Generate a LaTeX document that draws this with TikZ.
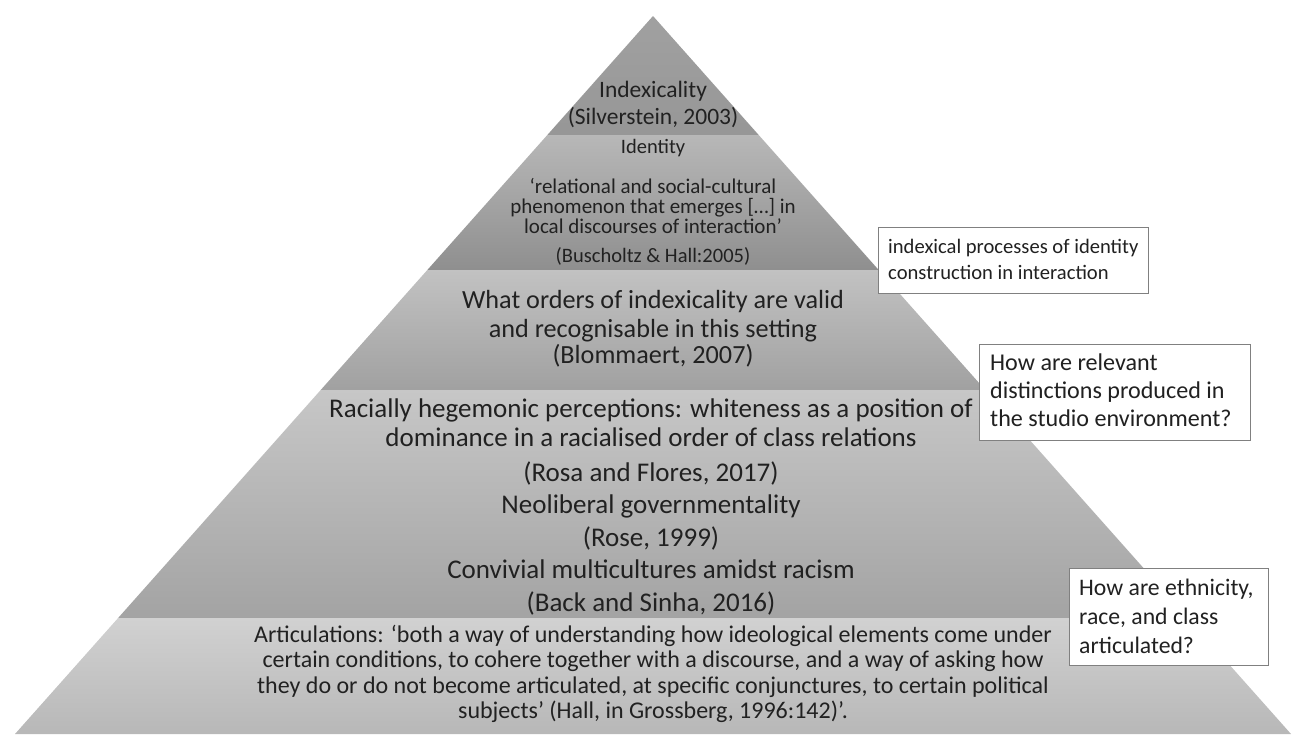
\documentclass[tikz,border=0pt]{standalone}
\usepackage{fontspec}
\setmainfont{Carlito}
\begin{document}
\begin{tikzpicture}[x=1pt,y=-1pt,
  band/.style={draw=none},
  ln/.style={anchor=base, inner sep=0pt, text=black!87},
  bl/.style={anchor=base west, inner sep=0pt, text=black!87},
  qbox/.style={draw=black!50, line width=0.9pt, fill=white, inner sep=0pt},
  fs/.style={font=\fontsize{#1}{#1}\selectfont}
]
\useasboundingbox (0,0) rectangle (1295,734);
% bands
\shade[band, top color=black!37, bottom color=black!41] (653,16) -- (758.7,135) -- (547.3,135) -- cycle;
\shade[band, top color=black!28, bottom color=black!44] (547.3,135) -- (758.7,135) -- (878.7,270) -- (427.3,270) -- cycle;
\shade[band, top color=black!24, bottom color=black!37] (427.3,270) -- (878.7,270) -- (985.3,390) -- (320.7,390) -- cycle;
\shade[band, top color=black!22, bottom color=black!36] (320.7,390) -- (985.3,390) -- (1187.9,618) -- (118.1,618) -- cycle;
\shade[band, top color=black!18, bottom color=black!28] (118.1,618) -- (1187.9,618) -- (1291,734) -- (15,734) -- cycle;
% band 1
\node[ln, fs=23.5] (t1a) at (653,97) {Indexicality};
\node[ln, fs=23.5] (t1b) at (653,124) {(Silverstein, 2003)};
% band 2
\node[ln, fs=20.5] (t2a) at (653,153) {Identity};
\node[ln, fs=21] (t2b) at (653,193) {‘relational and social-cultural};
\node[ln, fs=21] (t2c) at (653,213) {phenomenon that emerges […] in};
\node[ln, fs=21] (t2d) at (653,233) {local discourses of interaction’};
\node[ln, fs=20.5] (t2e) at (653,262) {(Buscholtz \& Hall:2005)};
% band 3
\node[ln, fs=26.2] (t3a) at (653,308) {What orders of indexicality are valid};
\node[ln, fs=26.2] (t3b) at (653,337) {and recognisable in this setting};
\node[ln, fs=26.2] (t3c) at (653,363) {(Blommaert, 2007)};
% band 4
\node[ln, fs=27] (t4a) at (651,417) {Racially hegemonic perceptions: whiteness as a position of};
\node[ln, fs=27] (t4b) at (651,446) {dominance in a racialised order of class relations};
\node[ln, fs=27] (t4c) at (651,481) {(Rosa and Flores, 2017)};
\node[ln, fs=27] (t4d) at (651,513) {Neoliberal governmentality};
\node[ln, fs=27] (t4e) at (651,546) {(Rose, 1999)};
\node[ln, fs=27] (t4f) at (651,578) {Convivial multicultures amidst racism};
\node[ln, fs=27] (t4g) at (651,611) {(Back and Sinha, 2016)};
% band 5
\node[ln, fs=24] (t5a) at (653,642) {Articulations: ‘both a way of understanding how ideological elements come under};
\node[ln, fs=24] (t5b) at (653,667) {certain conditions, to cohere together with a discourse, and a way of asking how};
\node[ln, fs=24] (t5c) at (653,693) {they do or do not become articulated, at specific conjunctures, to certain political};
\node[ln, fs=24] (t5d) at (653,718) {subjects’ (Hall, in Grossberg, 1996:142)’.};
% box 1
\node[qbox, minimum width=270pt, minimum height=66pt] (b1) at (1013,260) {};
\node[bl, fs=20.6] (b1a) at (888,253) {indexical processes of identity};
\node[bl, fs=20.6] (b1b) at (888,279) {construction in interaction};
% box 2
\node[qbox, minimum width=271pt, minimum height=96pt] (b2) at (1114.5,392) {};
\node[bl, fs=24.1] (b2a) at (990,370) {How are relevant};
\node[bl, fs=24.1] (b2b) at (990,398) {distinctions produced in};
\node[bl, fs=24.1] (b2c) at (990,426) {the studio environment?};
% box 3
\node[qbox, minimum width=199pt, minimum height=97pt] (b3) at (1168.5,616.5) {};
\node[bl, fs=23.7] (b3a) at (1079,595) {How are ethnicity,};
\node[bl, fs=23.7] (b3b) at (1079,624) {race, and class};
\node[bl, fs=23.7] (b3c) at (1079,653) {articulated?};
\end{tikzpicture}
\end{document}
